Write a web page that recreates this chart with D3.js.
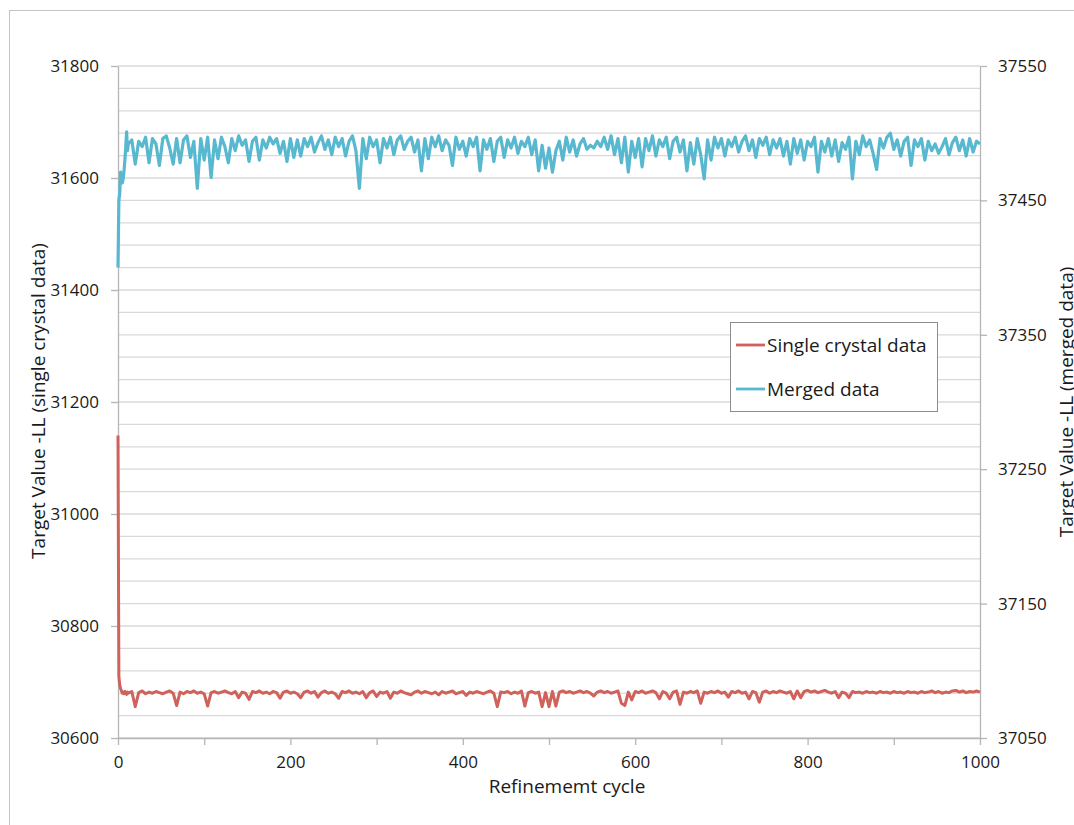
<!DOCTYPE html>
<html>
<head>
<meta charset="utf-8">
<script src="https://cdn.jsdelivr.net/npm/d3@7"></script>
<style>
  body { margin: 0; background: #fff; }
  text { font-family: "Open Sans", "Liberation Sans", sans-serif; fill: #1a1a1a; }
</style>
</head>
<body>
<script>
const width = 1074;
const height = 825;

// refinement cycles that were sampled off the chart
const cycles = [0, 1, 2, 3, 4, 5, 6, 7, 8, 9, 10, 11].concat(d3.range(12, 1001, 4));

// single crystal data (left axis)
const singleCrystal = [
  31140, 30710, 30695, 30688, 30684, 30680, 30682, 30679, 30683, 30681, 30678, 30682,
  30680, 30683, 30656, 30681, 30684, 30679, 30682, 30680, 30683, 30681, 30679, 30682, 30684, 30680, 30658, 30682, 30679, 30683, 30681, 30684, 30680, 30682, 30679, 30657, 30681,
  30683, 30680, 30682, 30684, 30681, 30679, 30683, 30672, 30682, 30680, 30669, 30683, 30681, 30684, 30680, 30682, 30679, 30683, 30681, 30671, 30682, 30684, 30680, 30682, 30679,
  30672, 30682, 30684, 30680, 30683, 30673, 30681, 30684, 30680, 30682, 30679, 30671, 30683, 30681, 30684, 30680, 30682, 30679, 30683, 30672, 30681, 30684, 30674, 30682, 30680,
  30683, 30671, 30682, 30680, 30684, 30681, 30679, 30677, 30682, 30684, 30680, 30683, 30681, 30679, 30682, 30677, 30683, 30680, 30682, 30684, 30679, 30681, 30683, 30676, 30682,
  30680, 30683, 30681, 30679, 30682, 30684, 30680, 30656, 30682, 30681, 30683, 30679, 30682, 30680, 30684, 30657, 30681, 30683, 30680, 30682, 30656, 30681, 30656, 30683, 30657,
  30682, 30684, 30681, 30683, 30680, 30682, 30684, 30681, 30683, 30680, 30675, 30682, 30684, 30681, 30683, 30680, 30682, 30684, 30662, 30658, 30682, 30668, 30683, 30681, 30684,
  30680, 30682, 30684, 30681, 30670, 30683, 30680, 30670, 30682, 30684, 30660, 30682, 30680, 30683, 30681, 30684, 30662, 30682, 30680, 30683, 30681, 30684, 30680, 30682, 30673,
  30683, 30681, 30684, 30680, 30682, 30670, 30683, 30681, 30664, 30682, 30684, 30680, 30683, 30681, 30684, 30682, 30680, 30683, 30670, 30684, 30672, 30683, 30685, 30682, 30684,
  30681, 30683, 30685, 30682, 30680, 30683, 30672, 30682, 30680, 30672, 30683, 30681, 30682, 30680, 30683, 30681, 30682, 30680, 30683, 30681, 30682, 30680, 30683, 30681, 30682,
  30680, 30683, 30681, 30682, 30680, 30683, 30681, 30682, 30684, 30681, 30683, 30680, 30682, 30681, 30684, 30685, 30682, 30684, 30681, 30683, 30682, 30684, 30682
];

// merged data (right axis)
const merged = [
  37400, 37450, 37455, 37471, 37468, 37463, 37466, 37472, 37480, 37490, 37501, 37487,
  37492, 37495, 37477, 37494, 37490, 37497, 37478, 37496, 37492, 37476, 37496, 37498, 37489, 37477, 37496, 37478, 37495, 37498, 37482, 37494, 37459, 37496, 37480, 37497, 37467,
  37495, 37481, 37497, 37490, 37478, 37496, 37487, 37498, 37491, 37495, 37479, 37494, 37497, 37480, 37495, 37489, 37497, 37492, 37496, 37485, 37494, 37479, 37496, 37482, 37495,
  37483, 37496, 37490, 37497, 37486, 37493, 37498, 37488, 37495, 37484, 37497, 37490, 37496, 37483, 37494, 37498, 37487, 37459, 37496, 37481, 37497, 37490, 37495, 37478, 37496,
  37489, 37497, 37484, 37495, 37498, 37488, 37494, 37497, 37486, 37495, 37472, 37496, 37481, 37497, 37490, 37498, 37487, 37495, 37491, 37476, 37497, 37488, 37494, 37483, 37496,
  37490, 37497, 37472, 37495, 37488, 37496, 37479, 37494, 37497, 37482, 37495, 37489, 37497, 37485, 37494, 37490, 37497, 37484, 37495, 37472, 37491, 37474, 37489, 37471, 37487,
  37494, 37480, 37497, 37486, 37495, 37483, 37492, 37496, 37488, 37491, 37489, 37494, 37490, 37497, 37488, 37498, 37484, 37496, 37478, 37497, 37471, 37494, 37482, 37496, 37475,
  37496, 37487, 37498, 37483, 37495, 37490, 37497, 37481, 37494, 37497, 37486, 37495, 37472, 37493, 37477, 37496, 37484, 37466, 37495, 37480, 37497, 37489, 37496, 37483, 37495,
  37490, 37497, 37486, 37494, 37498, 37487, 37495, 37482, 37496, 37491, 37497, 37484, 37495, 37489, 37496, 37483, 37494, 37477, 37496, 37485, 37495, 37480, 37494, 37490, 37497,
  37471, 37494, 37486, 37496, 37483, 37495, 37479, 37493, 37488, 37497, 37466, 37494, 37484, 37498, 37490, 37495, 37485, 37473, 37496, 37489, 37497, 37500, 37488, 37495, 37483,
  37494, 37497, 37476, 37495, 37490, 37496, 37480, 37494, 37487, 37492, 37485, 37490, 37496, 37484, 37493, 37497, 37487, 37495, 37483, 37496, 37486, 37494, 37492
];

const leftTicks = [30600, 30800, 31000, 31200, 31400, 31600, 31800];
const rightTicks = [37050, 37150, 37250, 37350, 37450, 37550];
const xTicks = [0, 100, 200, 300, 400, 500, 600, 700, 800, 900, 1000];
const gridValues = d3.range(30600, 31801, 40);

const seriesNames = ["Single crystal data", "Merged data"];
const seriesColors = ["#cf625b", "#58b8d0"];

const svg = d3.select('body').append('svg').attr('width', width).attr('height', height);

// chart area border (runs off the right and bottom of the picture)
svg.append("rect")
  .attr("x", 9.5).attr("y", 10.5)
  .attr("width", 1200).attr("height", 1000)
  .style("fill", "none")
  .style("stroke", "#c4c4c4")
  .style("stroke-width", 1);

const x = d3.scaleLinear().domain([0, 1000]).range([118, 980]);
const yLeft = d3.scaleLinear().domain([30600, 31800]).range([738, 66]);
const yRight = d3.scaleLinear().domain([37050, 37550]).range([738, 66]);

// horizontal gridlines
svg.selectAll("line.grid")
  .data(gridValues)
  .enter()
  .append("line")
  .attr("class", "grid")
  .attr("x1", x(0))
  .attr("x2", x(1000))
  .attr("y1", d => yLeft(d))
  .attr("y2", d => yLeft(d))
  .style("stroke", "#d9d9d9")
  .style("stroke-width", 1.3);

function styleAxis(g) {
  g.selectAll("path, line").style("stroke", "#b5b5b5").style("stroke-width", 1.3);
  g.selectAll("text").style("font-size", "17px").style("fill", "#1a1a1a")
    .style("font-family", '"Open Sans", "Liberation Sans", sans-serif');
}

svg.append("g")
  .attr("transform", `translate(${x(0)},0)`)
  .call(d3.axisLeft(yLeft).tickValues(leftTicks).tickSize(7).tickSizeOuter(0).tickPadding(12).tickFormat(d3.format("d")))
  .call(styleAxis);

svg.append("g")
  .attr("transform", `translate(${x(1000)},0)`)
  .call(d3.axisRight(yRight).tickValues(rightTicks).tickSize(7).tickSizeOuter(0).tickPadding(11).tickFormat(d3.format("d")))
  .call(styleAxis);

svg.append("g")
  .attr("transform", `translate(0,${yLeft(30600)})`)
  .call(d3.axisBottom(x).tickValues(xTicks).tickSize(7).tickSizeOuter(0).tickPadding(11)
    .tickFormat(d => d % 200 === 0 ? d : ""))
  .call(styleAxis);

// the two series
const lineLeft = d3.line().x((d, i) => x(cycles[i])).y(d => yLeft(d));
const lineRight = d3.line().x((d, i) => x(cycles[i])).y(d => yRight(d));

svg.append("path")
  .datum(singleCrystal)
  .attr("d", lineLeft)
  .style("fill", "none")
  .style("stroke", seriesColors[0])
  .style("stroke-width", 3)
  .style("stroke-linejoin", "round");

svg.append("path")
  .datum(merged)
  .attr("d", lineRight)
  .style("fill", "none")
  .style("stroke", seriesColors[1])
  .style("stroke-width", 3.2)
  .style("stroke-linejoin", "round");

// axis titles
svg.append("text")
  .text("Refinememt cycle")
  .attr("x", 567).attr("y", 793)
  .attr("text-anchor", "middle")
  .style("font-size", "19px");

svg.append("text")
  .text("Target Value -LL (single crystal data)")
  .attr("transform", "translate(45,401) rotate(-90)")
  .attr("text-anchor", "middle")
  .style("font-size", "19px");

svg.append("text")
  .text("Target Value -LL (merged data)")
  .attr("transform", "translate(1073,402) rotate(-90)")
  .attr("text-anchor", "middle")
  .style("font-size", "19px");

// legend
const legend = svg.append("g").attr("transform", "translate(730,322)");
legend.append("rect")
  .attr("x", 0.5).attr("y", 0.5)
  .attr("width", 207).attr("height", 89)
  .style("fill", "#fff")
  .style("stroke", "#8c8c8c")
  .style("stroke-width", 1);

const items = legend.selectAll("g.item")
  .data(seriesNames)
  .enter()
  .append("g")
  .attr("class", "item")
  .attr("transform", (d, i) => `translate(0,${23 + i * 44})`);

items.append("line")
  .attr("x1", 6).attr("x2", 35)
  .style("stroke", (d, i) => seriesColors[i])
  .style("stroke-width", 2.8);

items.append("text")
  .text(d => d)
  .attr("x", 37)
  .attr("dy", "0.35em")
  .style("font-size", "19px");
</script>
</body>
</html>
